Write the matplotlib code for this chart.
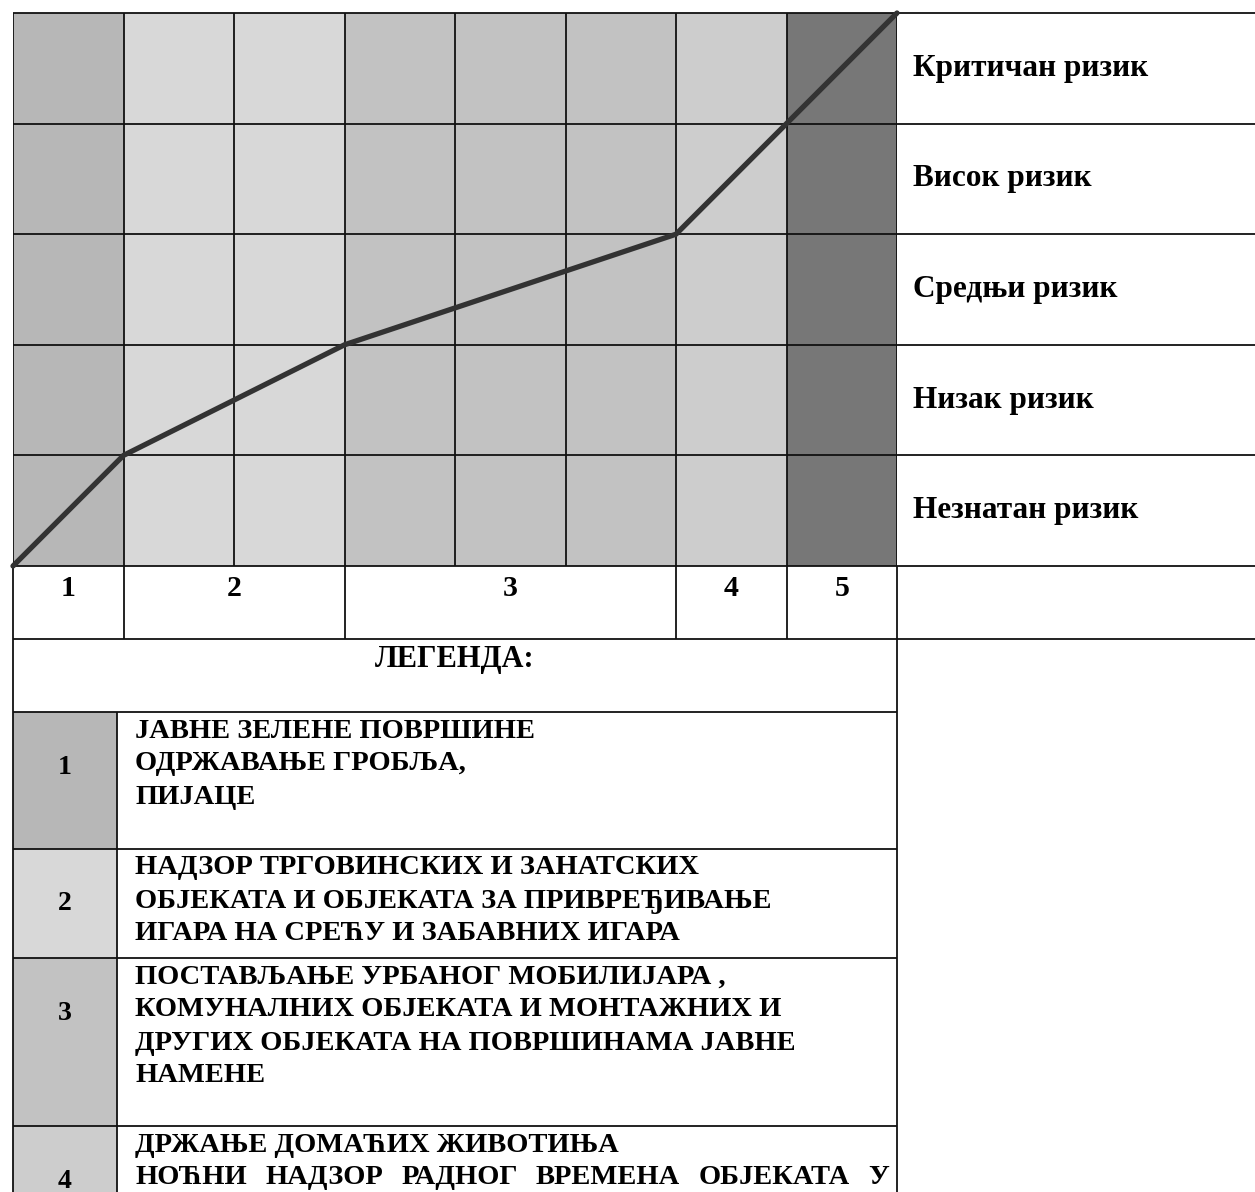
import matplotlib.pyplot as plt

plt.rcParams['font.family'] = ['Liberation Serif', 'DejaVu Serif']
plt.rcParams['font.weight'] = 'bold'

# risk levels, bottom to top
risk_levels = ['Незнатан ризик', 'Низак ризик', 'Средњи ризик', 'Висок ризик', 'Критичан ризик']
# activity group of each of the 8 grid columns
column_groups = [1, 2, 2, 3, 3, 3, 4, 5]
group_colors = {1: '#b7b7b7', 2: '#d8d8d8', 3: '#c2c2c2', 4: '#cdcdcd', 5: '#777777'}
# risk curve (column boundary -> risk level)
curve_x = [0, 1, 3, 6, 7, 8]
curve_y = [0, 1, 2, 3, 4, 5]

legend_title = 'ЛЕГЕНДА:'
legend_groups = [1, 2, 3, 4]
legend_texts = [
    ['ЈАВНЕ ЗЕЛЕНЕ ПОВРШИНЕ', 'ОДРЖАВАЊЕ ГРОБЉА,', 'ПИЈАЦЕ'],
    ['НАДЗОР ТРГОВИНСКИХ И ЗАНАТСКИХ', 'ОБЈЕКАТА И ОБЈЕКАТА ЗА ПРИВРЕЂИВАЊЕ',
     'ИГАРА НА СРЕЋУ И ЗАБАВНИХ ИГАРА'],
    ['ПОСТАВЉАЊЕ УРБАНОГ МОБИЛИЈАРА ,', 'КОМУНАЛНИХ ОБЈЕКАТА И МОНТАЖНИХ И',
     'ДРУГИХ ОБЈЕКАТА НА ПОВРШИНАМА ЈАВНЕ', 'НАМЕНЕ'],
    ['ДРЖАЊЕ ДОМАЋИХ ЖИВОТИЊА', 'НОЋНИ НАДЗОР РАДНОГ ВРЕМЕНА ОБЈЕКАТА У'],
]
justified_lines = {(3, 1)}

W, H = 1255, 1192
fig = plt.figure(figsize=(W / 100, H / 100), dpi=100)

# ---- lower part (legend table) in pixel coordinates
lax = fig.add_axes([0, 0, 1, 1])
lax.set_xlim(0, W)
lax.set_ylim(H, 0)
lax.axis('off')

# ---- risk grid
gl, gr, gt, gb = 13, 897, 13, 566
ax = fig.add_axes([gl / W, 1 - gb / H, (gr - gl) / W, (gb - gt) / H])
ncol, nrow = len(column_groups), len(risk_levels)
ax.set_xlim(0, ncol)
ax.set_ylim(0, nrow)
ax.axis('off')

col_w = (gr - gl) / ncol
row_h = (gb - gt) / nrow
right_end = ncol + (W - gr) / col_w + 0.1
lw = 1.3

ax.bar(range(ncol), nrow, width=1, align='edge',
       color=[group_colors[g] for g in column_groups], zorder=1)
ax.vlines(range(ncol + 1), 0, nrow, color='#111111', lw=lw, zorder=2)
ax.hlines(range(nrow + 1), 0, right_end, color='#111111', lw=lw, zorder=2, clip_on=False)
ax.plot(curve_x, curve_y, color='#333333', lw=3.8, solid_capstyle='round',
        solid_joinstyle='round', zorder=3, clip_on=False)

for i, lab in enumerate(risk_levels):
    ax.text(ncol + 16 / col_w, i + 0.5, lab, fontsize=22.5, va='center', ha='left')

# number row below grid
num_h = (639 - gb) / row_h
bounds = [0]
for i in range(1, ncol):
    if column_groups[i] != column_groups[i - 1]:
        bounds.append(i)
bounds.append(ncol)
ax.vlines(bounds, -num_h, 0, color='#111111', lw=lw, clip_on=False)
ax.hlines(-num_h, 0, right_end, color='#111111', lw=lw, clip_on=False)
for k in range(len(bounds) - 1):
    g = column_groups[bounds[k]]
    ax.text((bounds[k] + bounds[k + 1]) / 2, -22 / row_h, str(g), fontsize=21.5,
            ha='center', va='center', clip_on=False)

# ---- legend table
ll, lm, lr = gl, 117, gr
row_tops = [712, 849, 958, 1126, 1300]
lax.vlines([ll, lr], 639, H + 5, color='#111111', lw=lw)
lax.text((ll + lr) / 2, 659, legend_title, fontsize=22, ha='center', va='center')
lax.hlines(row_tops[:-1], ll, lr, color='#111111', lw=lw)

fs = 20.5
r = fig.canvas.get_renderer()
for k, g in enumerate(legend_groups):
    top, bot = row_tops[k], row_tops[k + 1]
    lax.fill_between([ll, lm], top, bot, color=group_colors[g], lw=0, zorder=0)
    lax.vlines(lm, top, bot, color='#111111', lw=lw)
    for j, line in enumerate(legend_texts[k]):
        y = top + 19 + 33 * j
        if (k, j) in justified_lines:
            words = line.split()
            ts = [lax.text(0, y, w, fontsize=fs, ha='left', va='center') for w in words]
            ws = [t.get_window_extent(r).width for t in ts]
            gap = (lr - 8 - 135 - sum(ws)) / (len(words) - 1)
            x = 135
            for t, w in zip(ts, ws):
                t.set_x(x)
                x += w + gap
        else:
            lax.text(135, y, line, fontsize=fs, ha='left', va='center')
    lax.text((ll + lm) / 2, top + 19 + 33 + 3, str(g), fontsize=20, ha='center', va='center')

fig.savefig('out.png', dpi=100)
